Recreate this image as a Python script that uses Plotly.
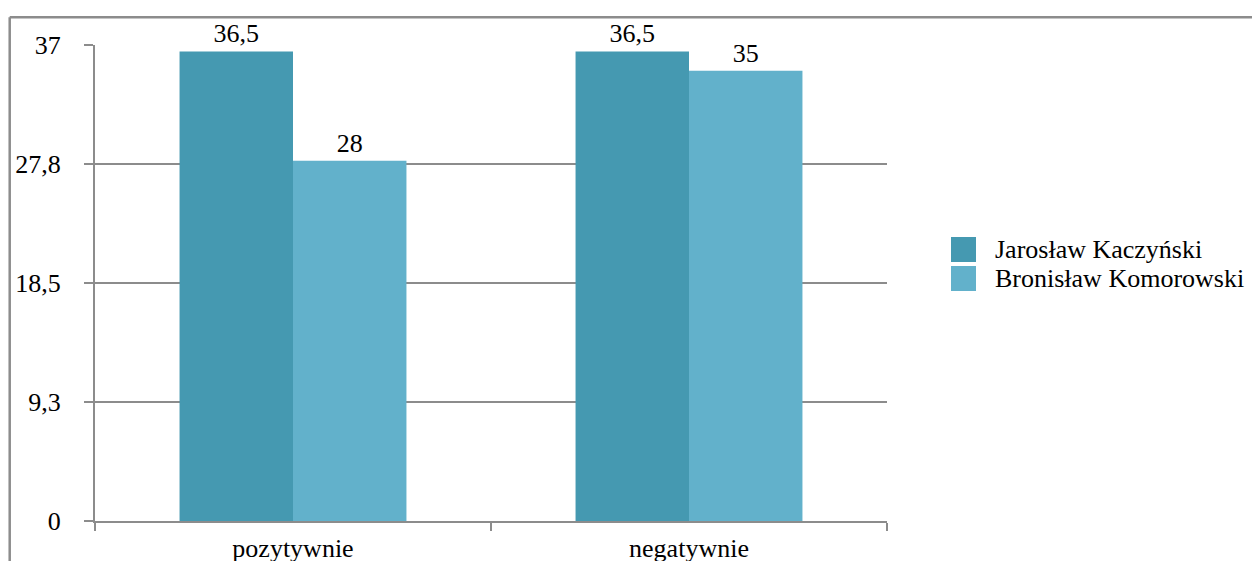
import plotly.graph_objects as go

categories = ["pozytywnie", "negatywnie"]
series_names = ["Jarosław Kaczyński", "Bronisław Komorowski"]
kaczynski = [36.5, 36.5]
komorowski = [28, 35]
tick_vals = [0, 9.25, 18.5, 27.75, 37]
tick_text = ["0", "9,3", "18,5", "27,8", "37"]

colors = ["#4599B1", "#62B1CB"]
FONT = "Liberation Serif"
FS = 26
GRID = "#8C8C8C"

fig = go.Figure()
for name, vals, col in zip(series_names, [kaczynski, komorowski], colors):
    fig.add_trace(go.Bar(
        x=categories, y=vals, name=name, showlegend=False,
        marker=dict(color=col, line=dict(width=0)),
        text=vals, texttemplate="%{y}", textposition="outside",
        textfont=dict(family=FONT, size=FS, color="black"),
        cliponaxis=False,
    ))

# page has an 8px body margin: figure coords = screen coords - 8
OFF = 8
W, H = 1260 - OFF, 561 - OFF
L, R, T, B = 95 - OFF, 887 - OFF, 45 - OFF, 521 - OFF
pw, ph = R - L, B - T

def px(x):  # screen x -> paper
    return (x - OFF - L) / pw

def py(y):  # screen y -> paper
    return (B - (y - OFF)) / ph

fig.update_layout(
    width=W, height=H,
    margin=dict(l=L, r=W - R, t=T, b=H - B, pad=0, autoexpand=False),
    paper_bgcolor="white", plot_bgcolor="white",
    separators=", ",
    barmode="group", bargap=0.427, bargroupgap=0,
    font=dict(family=FONT, size=FS, color="black"),
    showlegend=False,
    xaxis=dict(
        type="category", range=[-0.5, 1.5], automargin=False,
        showline=True, linecolor=GRID, linewidth=2,
        ticks="outside", tickson="boundaries", ticklen=8, tickwidth=2, tickcolor=GRID,
        showgrid=False, ticklabelstandoff=3,
        tickfont=dict(family=FONT, size=FS, color="black"),
    ),
    yaxis=dict(
        range=[0, 37], tickmode="array", tickvals=tick_vals, ticktext=tick_text,
        automargin=False,
        showline=True, linecolor=GRID, linewidth=2,
        ticks="outside", ticklen=9, tickwidth=2, tickcolor=GRID,
        showgrid=True, gridcolor=GRID, gridwidth=2,
        zeroline=False, ticklabelstandoff=18,
        tickfont=dict(family=FONT, size=FS, color="black"),
    ),
)

# legend (swatches + labels) built from the series lists
sw_x0, sw_x1 = 951, 976
sw_tops = [237, 266]
for name, col, top in zip(series_names, colors, sw_tops):
    fig.add_shape(type="rect", xref="paper", yref="paper",
                  x0=px(sw_x0), x1=px(sw_x1), y0=py(top), y1=py(top + 25),
                  fillcolor=col, line=dict(width=0))
    fig.add_annotation(xref="paper", yref="paper", x=px(993), y=py(top + 12.5),
                       text=name, showarrow=False, xanchor="left", yanchor="middle",
                       font=dict(family=FONT, size=FS, color="black"))

# outer chart-area frame (cropped in the reference)
fig.add_shape(type="line", xref="paper", yref="paper",
              x0=px(9.7), x1=px(1300), y0=py(17.3), y1=py(17.3),
              line=dict(color=GRID, width=2.5), layer="below")
fig.add_shape(type="line", xref="paper", yref="paper",
              x0=px(9.7), x1=px(9.7), y0=py(17.3), y1=py(600),
              line=dict(color=GRID, width=2.5), layer="below")

fig.write_html("out.html")
